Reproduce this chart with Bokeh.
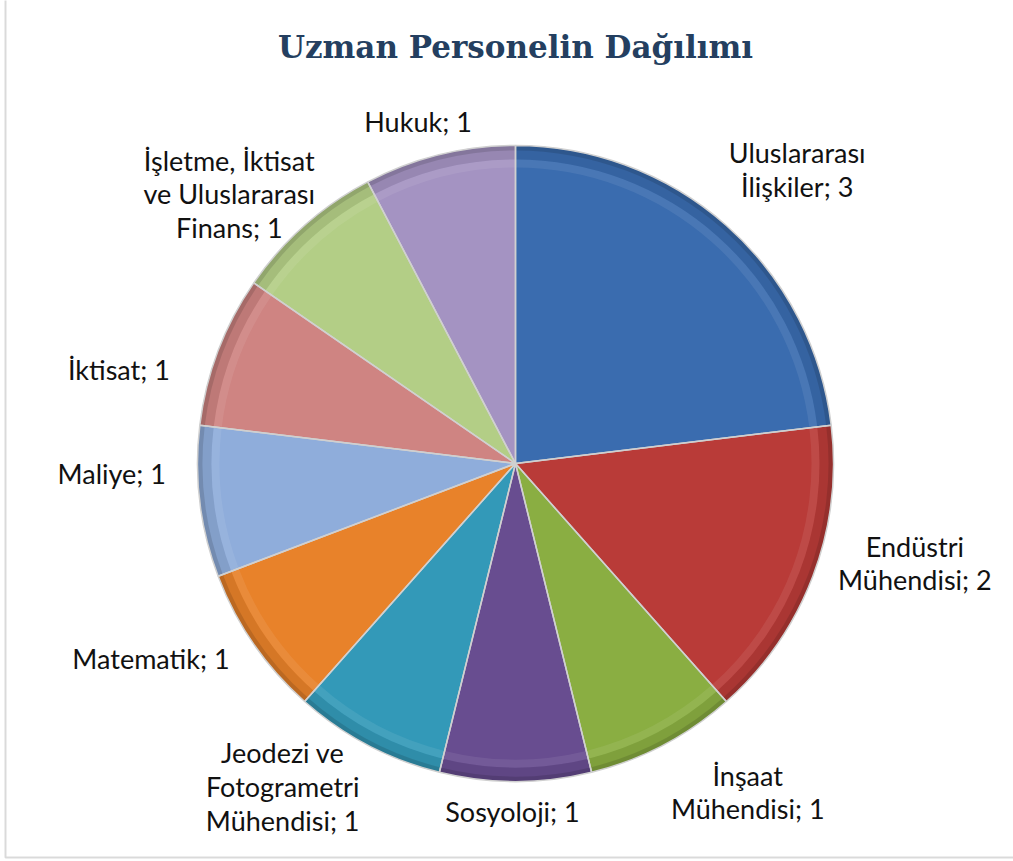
import numpy as np
from bokeh.plotting import figure
from bokeh.models import Range1d, ColumnDataSource, Label, BoxAnnotation
from bokeh.core.properties import value
from bokeh.embed import file_html
from bokeh.resources import INLINE

# ---- data ----
title_text = "Uzman Personelin Dağılımı"
categories = [
    "Uluslararası\nİlişkiler",
    "Endüstri\nMühendisi",
    "İnşaat\nMühendisi",
    "Sosyoloji",
    "Jeodezi ve\nFotogrametri\nMühendisi",
    "Matematik",
    "Maliye",
    "İktisat",
    "İşletme, İktisat\nve Uluslararası\nFinans",
    "Hukuk",
]
counts = [3, 2, 1, 1, 1, 1, 1, 1, 1, 1]

# ---- styles / layout ----
colors = ["#3A6CAF", "#B93B38", "#8AAE42", "#684D90", "#3399B8",
          "#E8822A", "#8FADDB", "#CF8482", "#B3CE86", "#A493C2"]
# label nudges (screen px, +y = down) relative to the automatic placement
label_nudge = [(18, 4), (21, -44), (52, -15), (-3, 6), (-46, -33),
               (-40, -29), (-25, -36), (-34, 44), (-4, 49), (-13, 1)]

W, H = 1013, 861
cx, cy_s, R = 515, 463, 318
cy = H - cy_s
FS = 27
LINE_H = 32
CHAR_W = 12.0
GAP = 8

vals = np.array(counts, dtype=float)
total = vals.sum()
frac = vals / total
ends_cum = np.cumsum(frac)
starts_cum = ends_cum - frac
start_ang = np.pi / 2 - starts_cum * 2 * np.pi
end_ang = np.pi / 2 - ends_cum * 2 * np.pi
mid_ang = (start_ang + end_ang) / 2

src = ColumnDataSource(dict(start=start_ang, end=end_ang, color=colors))

p = figure(width=W, height=H, x_range=Range1d(0, W), y_range=Range1d(0, H),
           output_backend="svg", toolbar_location=None, min_border=0)
p.axis.visible = False
p.grid.visible = False
p.outline_line_color = None
p.background_fill_color = "white"
p.border_fill_color = "white"

# chart frame
p.add_layout(BoxAnnotation(left=5, right=W + 20, bottom=H - 857, top=H + 20,
                           fill_alpha=0, line_color="#868686", line_width=2))

# pie slices
p.wedge(x=cx, y=cy, radius=R, start_angle="start", end_angle="end",
        direction="clock", fill_color="color", line_color=None, source=src)
# soft inner highlight and bevel shading near the rim
p.annular_wedge(x=cx, y=cy, inner_radius=R - 22, outer_radius=R - 14,
                start_angle="start", end_angle="end", direction="clock",
                fill_color="white", fill_alpha=0.08, line_color=None, source=src)
p.annular_wedge(x=cx, y=cy, inner_radius=R - 14, outer_radius=R,
                start_angle="start", end_angle="end", direction="clock",
                fill_color="black", fill_alpha=0.08, line_color=None, source=src)
p.annular_wedge(x=cx, y=cy, inner_radius=R - 5, outer_radius=R,
                start_angle="start", end_angle="end", direction="clock",
                fill_color="black", fill_alpha=0.12, line_color=None, source=src)
# separators
p.wedge(x=cx, y=cy, radius=R, start_angle="start", end_angle="end",
        direction="clock", fill_color=None, line_color="#D0D0D0",
        line_width=1.5, source=src)

# labels
lx, ly, texts = [], [], []
for cat, v, a, (ndx, ndy) in zip(categories, counts, mid_ang, label_nudge):
    txt = f"{cat}; {v}"
    lines = txt.split("\n")
    w = max(len(s) for s in lines) * CHAR_W
    h = len(lines) * LINE_H
    c, s = np.cos(a), np.sin(a)
    support = abs(w / 2 * c) + abs(h / 2 * s)
    d = R + GAP + support
    lx.append(cx + d * c + ndx)
    ly.append(cy + d * s - ndy)
    texts.append(txt)

p.text(x=lx, y=ly, text=texts, text_align="center", text_baseline="middle",
       text_font=value("Lato"), text_font_size=f"{FS}px", text_color="#111111",
       text_line_height=1.02)

p.add_layout(Label(x=cx, y=H - 46, text=title_text, text_align="center",
                   text_baseline="middle", text_font="DejaVu Serif",
                   text_font_style="bold", text_font_size="31px",
                   text_color="#243F60"))

open("out.html", "w").write(file_html(p, INLINE))
